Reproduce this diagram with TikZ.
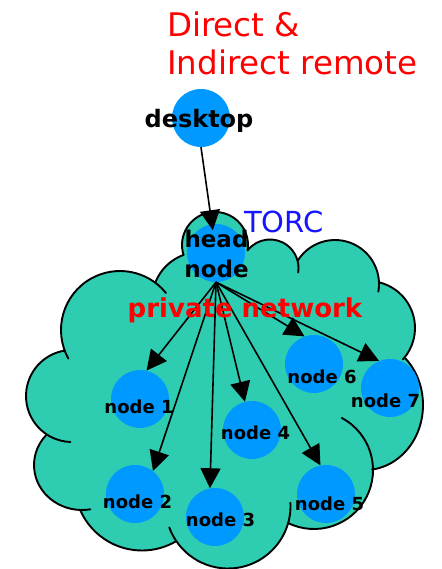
\documentclass[tikz,border=0pt]{standalone}
\usepackage{fontspec}
\setmainfont{DejaVu Sans}
\usepackage{xcolor}
\usepackage{tikz}
\usetikzlibrary{arrows.meta}

\definecolor{cloudgreen}{RGB}{46,204,176}
\definecolor{hostblue}{RGB}{0,153,255}
\definecolor{torcblue}{RGB}{20,20,255}

\tikzset{
  host/.style={circle, fill=hostblue, minimum size=58pt, inner sep=0pt},
  hostname/.style={font=\bfseries\fontsize{18}{22}\selectfont, anchor=base, inner sep=0pt},
  link/.style={-{Triangle[length=20pt,width=20pt]}, line width=1.6pt},
  cloudline/.style={line width=1.9pt, line cap=round},
}

% cloud bumps: centre x/centre y/x radius/y radius/start/end
\def\bumps{215/245/33/33/162.5/369.2, 270/268/28.5/28.5/218.3/369,
  335/284/44/44/211.8/370, 368/328/47/47/283.5/402, 365/405/58/65/314/443,
  314/470/59/59/298/476, 228/506/62.5/62.5/-3/160, 142/483/67.5/67.5/59.4/156.5,
  82/465/48/45/80/222, 72/396/46/46/92/260.7, 120/330/59/59/151/321,
  200/300/48/48/201.3/250}

\begin{document}
\begin{tikzpicture}[x=1pt, y=-1pt]
    \useasboundingbox (0,0) rectangle (441,569);

    % private network cloud
    \foreach \cx/\cy/\rx/\ry/\a/\b in \bumps
        \fill[cloudgreen] (\cx,\cy) ellipse[x radius=\rx, y radius=\ry];
    \fill[cloudgreen] (215,245) -- (270,268) -- (335,284) -- (368,328) -- (365,405) -- (314,470)
        -- (228,506) -- (142,483) -- (82,465) -- (72,396) -- (120,330) -- (200,300) -- cycle; % inside
    \foreach \cx/\cy/\rx/\ry/\a/\b in \bumps
        \draw[cloudline] (\cx,\cy) ++(\a:{\rx} and {\ry}) arc[start angle=\a, end angle=\b, x radius=\rx, y radius=\ry];

    \node[font=\fontsize{32.5}{38}\selectfont, text=red, align=left, anchor=north west, inner sep=0pt] (title) at (167,12) {Direct \&\\Indirect remote};

    % machines
    \node[host] (desk) at (201,118) {};
    \node[host] (head) at (216,253) {};
    \node[host] (n1) at (140,399) {};
    \node[host] (n2) at (135,494) {};
    \node[host] (n3) at (215,517) {};
    \node[host] (n4) at (252,430) {};
    \node[host] (n5) at (326,494) {};
    \node[host] (n6) at (314,364) {};
    \node[host] (n7) at (390,388) {};

    \draw[link, shorten >=23pt] (desk.south) -- (head.center);
    \draw[link] (head.south) -- (n1.77);
    \draw[link] (head.south) -- (n2.52);
    \draw[link] (head.south) -- (n3.100);
    \draw[link] (head.south) -- (n4.104);
    \draw[link] (head.south) -- (n5.101);
    \draw[link] (head.south) -- (n6.109);
    \draw[link] (head.south) -- (n7.112);

    \node[hostname, font=\bfseries\fontsize{24}{28}\selectfont] (desk-l) at (199,128) {desktop};
    \node[hostname, font=\bfseries\fontsize{23}{30}\selectfont, align=center, anchor=north] (head-l) at (216.5,229.5) {head\\node};
    \node[hostname] (n1-l) at (139,413) {node 1};
    \node[hostname] (n2-l) at (137.5,508) {node 2};
    \node[hostname] (n3-l) at (220.5,526) {node 3};
    \node[hostname] (n4-l) at (255.5,439) {node 4};
    \node[hostname] (n5-l) at (329.5,510) {node 5};
    \node[hostname] (n6-l) at (322,383) {node 6};
    \node[hostname] (n7-l) at (385.5,407) {node 7};

    \node[font=\fontsize{29}{34}\selectfont, text=torcblue, anchor=base] (torc) at (284,232) {TORC};
    \node[font=\bfseries\fontsize{26}{30}\selectfont, text=red, anchor=base] (pnet) at (245,317) {private network};
\end{tikzpicture}
\end{document}
